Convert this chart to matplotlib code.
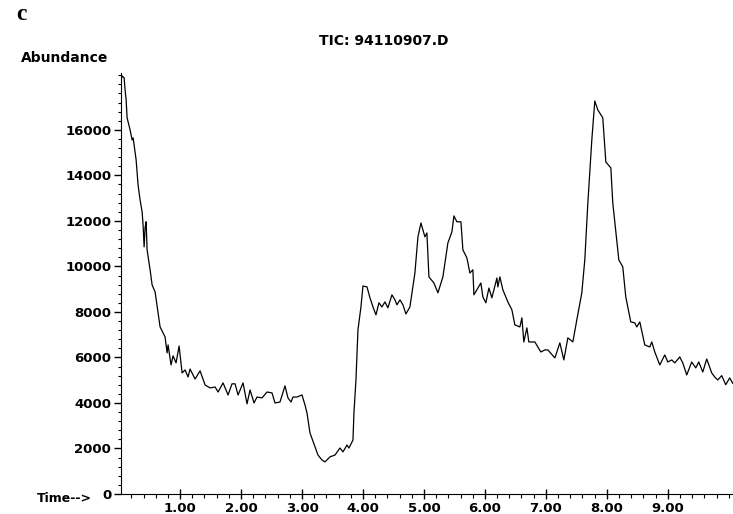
import numpy as np
import matplotlib.pyplot as plt
from matplotlib.ticker import MultipleLocator, FormatStrFormatter

# retention time (min) and total ion current
time_min = [0.033, 0.049, 0.082, 0.098, 0.115, 0.131, 0.148, 0.180, 0.213, 0.230,
            0.246, 0.279, 0.311, 0.344, 0.377, 0.393, 0.410, 0.426, 0.443, 0.459,
            0.508, 0.541, 0.590, 0.672, 0.754, 0.787, 0.803, 0.852, 0.885, 0.934,
            0.984, 1.033, 1.082, 1.131, 1.164, 1.246, 1.328, 1.410, 1.492, 1.574,
            1.623, 1.705, 1.787, 1.852, 1.902, 1.951, 2.033, 2.098, 2.148, 2.213,
            2.262, 2.344, 2.426, 2.508, 2.557, 2.639, 2.721, 2.770, 2.820, 2.852,
            2.918, 3.000, 3.049, 3.082, 3.131, 3.213, 3.262, 3.328, 3.377, 3.459,
            3.541, 3.623, 3.672, 3.738, 3.770, 3.836, 3.852, 3.885, 3.918, 3.967,
            4.000, 4.066, 4.115, 4.164, 4.213, 4.262, 4.311, 4.361, 4.410, 4.475,
            4.525, 4.557, 4.607, 4.656, 4.705, 4.770, 4.852, 4.902, 4.951, 4.984,
            5.016, 5.049, 5.082, 5.164, 5.230, 5.311, 5.393, 5.459, 5.492, 5.541,
            5.607, 5.639, 5.705, 5.754, 5.803, 5.820, 5.869, 5.934, 5.967, 6.016,
            6.066, 6.115, 6.197, 6.213, 6.246, 6.295, 6.377, 6.443, 6.492, 6.574,
            6.607, 6.639, 6.689, 6.721, 6.820, 6.918, 6.984, 7.033, 7.148, 7.230,
            7.295, 7.361, 7.443, 7.508, 7.590, 7.639, 7.689, 7.754, 7.803, 7.852,
            7.934, 7.984, 8.066, 8.098, 8.197, 8.262, 8.311, 8.393, 8.459, 8.492,
            8.541, 8.623, 8.705, 8.738, 8.787, 8.869, 8.951, 9.000, 9.066, 9.115,
            9.197, 9.246, 9.311, 9.393, 9.459, 9.508, 9.574, 9.639, 9.721, 9.770,
            9.820, 9.885, 9.951, 10.016, 10.066]
abundance = [18200, 18370, 18290, 17760, 17320, 16530, 16350, 16000, 15560, 15650,
             15340, 14680, 13580, 12920, 12400, 11820, 10860, 11700, 11960, 10730,
             9850, 9190, 8880, 7340, 6900, 6200, 6550, 5670, 6070, 5760,
             6500, 5320, 5450, 5140, 5490, 5050, 5410, 4790, 4660, 4700,
             4480, 4880, 4350, 4840, 4840, 4350, 4880, 3960, 4570, 4000,
             4260, 4220, 4480, 4440, 4000, 4040, 4750, 4220, 4040, 4260,
             4260, 4350, 3910, 3560, 2680, 2070, 1710, 1490, 1410, 1630,
             1710, 2020, 1850, 2150, 2020, 2370, 3560, 5010, 7210, 8220,
             9140, 9100, 8620, 8220, 7870, 8400, 8220, 8440, 8180, 8750,
             8530, 8310, 8530, 8310, 7910, 8220, 9710, 11300, 11910, 11600,
             11300, 11470, 9540, 9270, 8840, 9540, 11030, 11520, 12220, 11960,
             11960, 10730, 10370, 9710, 9850, 8750, 8970, 9270, 8660, 8400,
             9050, 8620, 9490, 9100, 9540, 8970, 8440, 8090, 7430, 7340,
             7740, 6680, 7300, 6680, 6680, 6240, 6330, 6330, 5980, 6640,
             5890, 6860, 6680, 7650, 8840, 10290, 12790, 15560, 17270, 16880,
             16530, 14590, 14330, 12790, 10290, 9980, 8660, 7560, 7520, 7340,
             7560, 6550, 6460, 6680, 6240, 5670, 6110, 5800, 5890, 5760,
             6020, 5760, 5230, 5800, 5540, 5800, 5360, 5930, 5320, 5140,
             5010, 5200, 4800, 5100, 4860]

x_ticks = [1, 2, 3, 4, 5, 6, 7, 8, 9]
y_ticks = [0, 2000, 4000, 6000, 8000, 10000, 12000, 14000, 16000]

plt.rcParams['font.family'] = 'DejaVu Sans'
plt.rcParams['font.weight'] = 'bold'

fig = plt.figure(figsize=(7.33, 5.14), dpi=100)
ax = fig.add_axes([0.165, 0.039, 0.835, 0.819])
ax.plot(time_min, abundance, color='black', linewidth=0.9)

ax.set_xlim(0.03, 10.07)
ax.set_ylim(0, 18500)
for side in ['top', 'right']:
    ax.spines[side].set_visible(False)

ax.set_xticks(x_ticks)
ax.xaxis.set_minor_locator(MultipleLocator(0.2))
ax.xaxis.set_major_formatter(FormatStrFormatter('%.2f'))
ax.set_yticks(y_ticks)
ax.yaxis.set_minor_locator(MultipleLocator(400))

ax.tick_params(axis='x', which='major', direction='inout', length=7, width=1, labelsize=9.5, pad=2)
ax.tick_params(axis='x', which='minor', direction='out', length=3, width=0.8)
ax.tick_params(axis='y', which='major', direction='out', length=5, width=1, labelsize=9.5, pad=2)
ax.tick_params(axis='y', which='minor', direction='out', length=2.5, width=0.8)

for lbl in ax.get_xticklabels() + ax.get_yticklabels():
    lbl.set_fontweight('bold')

fig.text(0.050, 0.030, 'Time-->', fontsize=9, fontweight='bold', va='center', ha='left')
fig.text(0.028, 0.888, 'Abundance', fontsize=10, fontweight='bold', va='center', ha='left')
fig.text(0.523, 0.920, 'TIC: 94110907.D', fontsize=10, fontweight='bold', va='center', ha='center')
fig.text(0.022, 0.972, 'c', fontsize=17, family='Liberation Serif', va='center', ha='left')

fig.savefig('out.png', dpi=100)
